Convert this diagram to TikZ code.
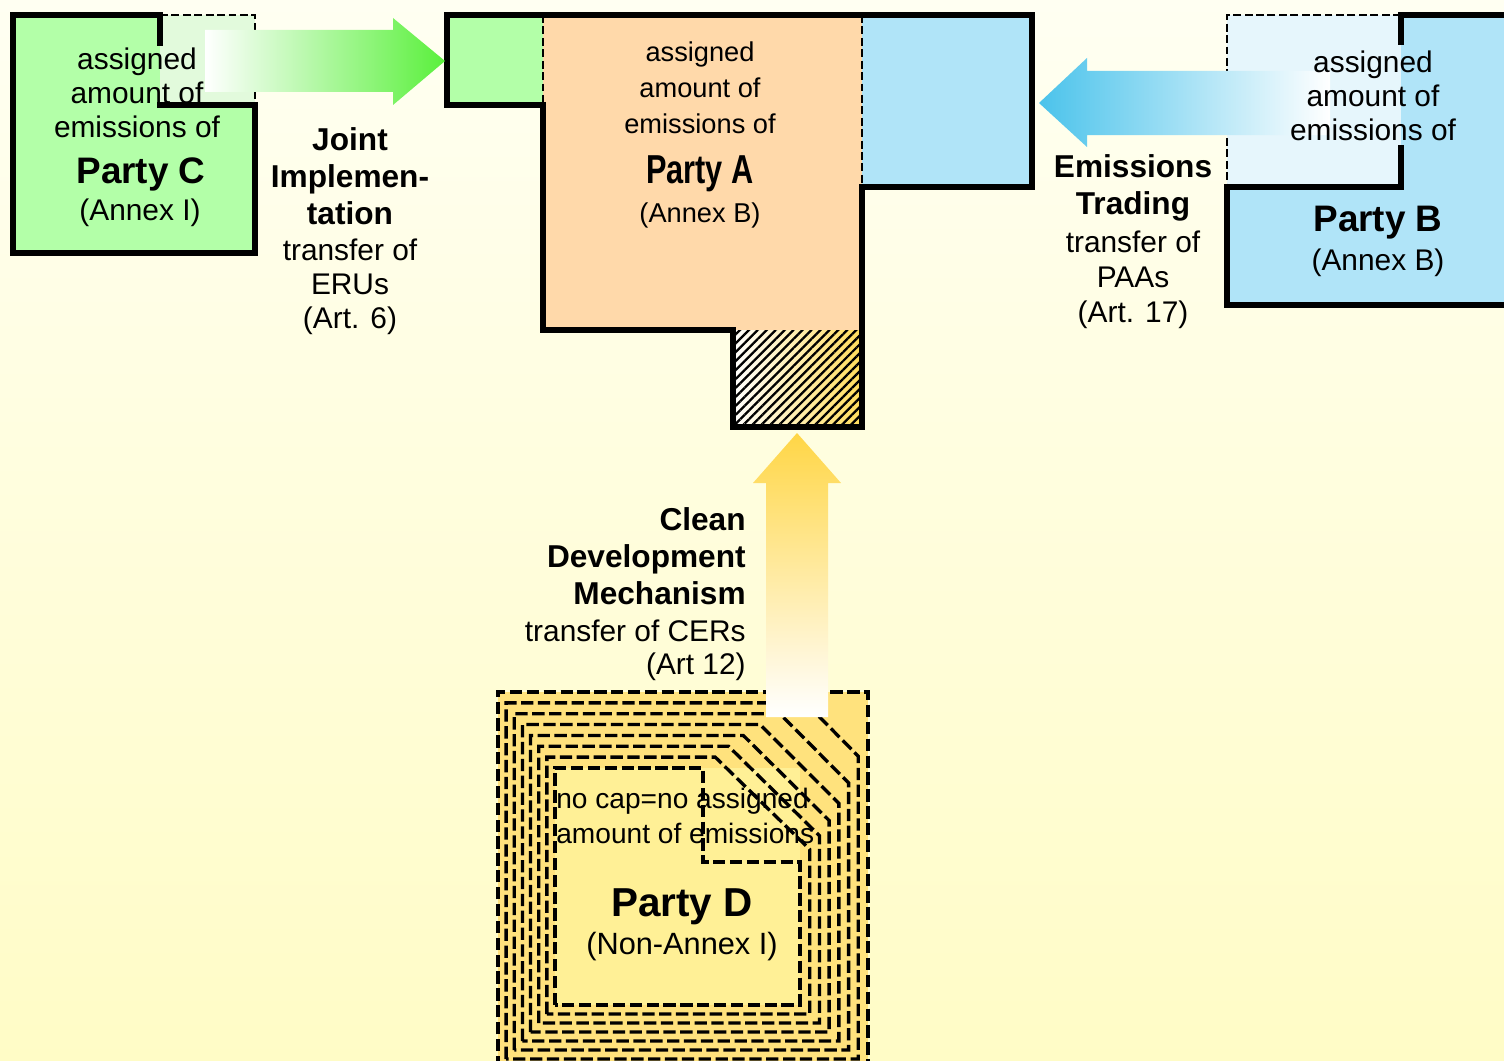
\documentclass[tikz,border=0pt]{standalone}
\usepackage{fontspec}
\setmainfont{Liberation Sans}
\newfontfamily\condfont{Liberation Sans}[FakeStretch=0.76]
\usetikzlibrary{patterns.meta}
\definecolor{bgtop}{RGB}{255,255,242}
\definecolor{bgbot}{RGB}{255,252,198}
\definecolor{cgreen}{RGB}{179,255,168}
\definecolor{cgreenlt}{RGB}{226,250,220}
\definecolor{apeach}{RGB}{255,217,170}
\definecolor{bblue}{RGB}{176,228,248}
\definecolor{bbluelt}{RGB}{230,246,252}
\definecolor{dyellow}{RGB}{255,226,125}
\definecolor{dyellowlt}{RGB}{255,240,150}
\definecolor{arrgreen}{RGB}{90,240,60}
\definecolor{arrblue}{RGB}{75,195,235}
\definecolor{arryellow}{RGB}{255,214,70}
\definecolor{hatchyel}{RGB}{255,220,90}
\begin{document}
\begin{tikzpicture}[x=0.02cm,y=-0.02cm,
  border/.style={line width=3.3pt, line join=miter, line cap=rect},
  thindash/.style={line width=1.6pt, dash pattern=on 4.5pt off 2pt},
  ringdash/.style={line width=1.9pt, dash pattern=on 7pt off 2.6pt},
  txt/.style={font=\fontsize{17}{19.3}\selectfont, align=center, inner sep=0pt},
  boldtxt/.style={font=\fontsize{18}{21}\selectfont\bfseries, align=center, inner sep=0pt},
  party/.style={font=\fontsize{21}{24}\selectfont\bfseries, inner sep=0pt},
  annex/.style={font=\fontsize{17}{20}\selectfont, inner sep=0pt}]
\useasboundingbox (0,0) rectangle (1504,1061);
\clip (0,0) rectangle (1504,1061);
\shade[top color=bgtop, bottom color=bgbot] (0,0) rectangle (1504,1061);

% ---------- Party C ----------
\fill[cgreen] (13,15) rectangle (255,253);
\fill[cgreenlt] (160,15) rectangle (255,105);
\draw[thindash] (160,15) -- (255,15) -- (255,105);
\draw[border] (160,43) -- (160,15) -- (13,15) -- (13,253) -- (255,253) -- (255,105) -- (160,105);

% ---------- Party A ----------
\fill[apeach] (543,15) rectangle (862,330);
\fill[cgreen] (447,15) rectangle (543,105);
\fill[bblue] (862,15) rectangle (1032,187);
\shade[left color=white, right color=hatchyel] (733,330) rectangle (862,427);
\fill[pattern={Lines[angle=45,distance=3.6pt,line width=1.3pt]}, pattern color=black] (733,330) rectangle (862,427);
\draw[thindash] (543,15) -- (543,105);
\draw[thindash] (862,15) -- (862,187);
\draw[border] (447,15) -- (1032,15) -- (1032,187) -- (862,187) -- (862,427) -- (733,427) -- (733,330) -- (543,330) -- (543,105) -- (447,105) -- cycle;

% ---------- Party B ----------
\fill[bblue] (1227,15) rectangle (1510,305);
\fill[bbluelt] (1227,15) rectangle (1401,187);
\draw[thindash] (1401,15) -- (1227,15) -- (1227,187);
\draw[border] (1510,15) -- (1401,15) -- (1401,42);
\draw[border] (1401,148) -- (1401,187) -- (1227,187) -- (1227,305) -- (1510,305);

% ---------- Party D ----------
\fill[dyellow] (498,692) rectangle (868,1070);
\fill[dyellowlt] (555,768) rectangle (800,1005);
\foreach \j in {0,...,6} {
  \pgfmathsetmacro\Ff{\j/7}
  \pgfmathsetmacro\Gg{sqrt(\Ff)}
  \pgfmathsetmacro\Lx{498+57*\Ff}
  \pgfmathsetmacro\Ty{692+76*\Ff}
  \pgfmathsetmacro\Rx{868-68*\Ff}
  \pgfmathsetmacro\By{1068-63*\Ff}
  \pgfmathsetmacro\Ax{868-165*\Gg}
  \pgfmathsetmacro\Cy{692+170*\Gg}
  \draw[ringdash] (\Lx,\By) -- (\Lx,\Ty) -- (\Ax,\Ty) -- (\Rx,\Cy) -- (\Rx,\By) -- cycle;
}
\draw[ringdash] (555,1005) -- (555,768) -- (703,768) -- (703,862) -- (800,862) -- (800,1005) -- cycle;

% ---------- Arrows ----------
\shade[left color=white, right color=arrgreen] (205,30) -- (393,30) -- (393,18) -- (445,61) -- (393,105) -- (393,92) -- (205,92) -- cycle;
\shade[left color=arrblue, right color=white] (1330,71) -- (1087,71) -- (1087,58) -- (1039,103) -- (1087,147) -- (1087,135) -- (1330,135) -- cycle;
\shade[top color=arryellow, bottom color=white] (766,717) -- (766,483) -- (753,483) -- (797,433) -- (841,483) -- (828,483) -- (828,717) -- cycle;

% ---------- Texts ----------
\node[txt] (cAmt) at (137,93) {assigned\\amount of\\emissions of};
\node[party] (cName) at (141,174) {Party C};
\node[annex] (cAnnex) at (140,213) {(Annex I)};

\node[boldtxt] (jiTitle) at (350,176) {Joint\\Implemen-\\tation};
\node[txt] (jiTrans) at (350,287) {transfer of\\ERUs\\(Art. 6)};

\node[txt, font=\fontsize{15.5}{20.4}\selectfont] (aAmt) at (700,88) {assigned\\amount of\\emissions of};
\node[party, font=\fontsize{23}{26}\selectfont\condfont\bfseries] (aName) at (700,174) {Party A};
\node[annex, font=\fontsize{15.5}{20}\selectfont] (aAnnex) at (700,215) {(Annex B)};

\node[txt] (bAmt) at (1373,96) {assigned\\amount of\\emissions of};
\node[party] (bName) at (1378,223) {Party B};
\node[annex] (bAnnex) at (1378,263) {(Annex B)};

\node[boldtxt] (etTitle) at (1133,188) {Emissions\\Trading};
\node[txt, font=\fontsize{17}{19.8}\selectfont] (etTrans) at (1133,280) {transfer of\\PAAs\\(Art. 17)};

\node[boldtxt, anchor=east, align=right] (cdmTitle) at (746,556) {Clean\\Development\\Mechanism};
\node[txt, anchor=east, align=right, font=\fontsize{17}{18.7}\selectfont] (cdmTrans) at (746,650) {transfer of CERs\\(Art 12)};

\node[txt, anchor=west, align=left, font=\fontsize{16}{19.8}\selectfont] (dNote) at (556,816) {no cap=no assigned\\amount of emissions};
\node[party, font=\fontsize{23}{26}\selectfont\bfseries] (dName) at (682,907) {Party D};
\node[annex, font=\fontsize{17.5}{20}\selectfont] (dAnnex) at (682,947) {(Non-Annex I)};
\end{tikzpicture}
\end{document}
